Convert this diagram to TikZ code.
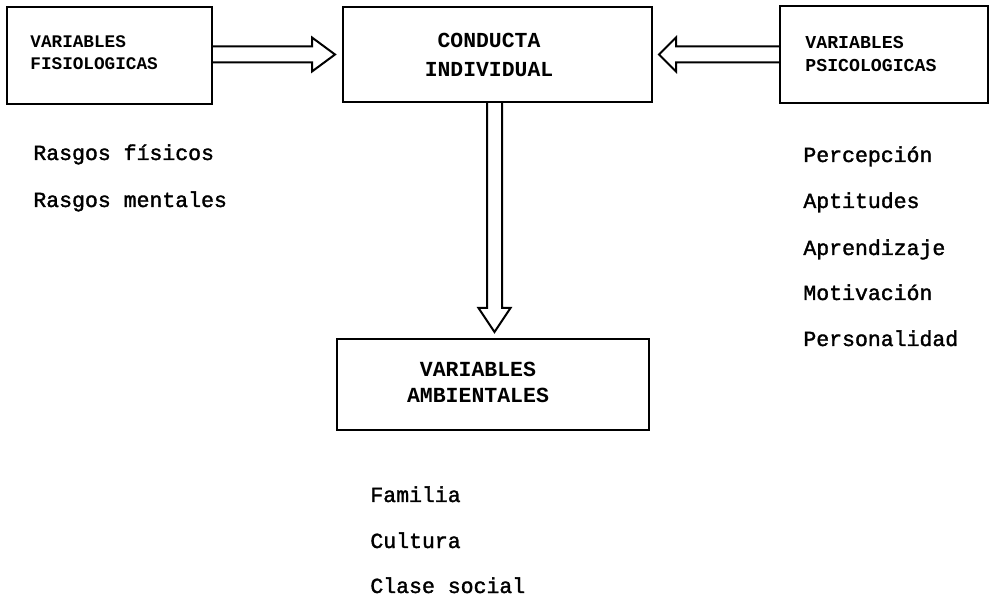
\documentclass[tikz,border=0pt]{standalone}
\usepackage{fontspec}
\setmonofont{Liberation Mono}
\newfontfamily\listfont{Liberation Mono}[BoldFont={Liberation Mono},BoldFeatures={FakeBold=1.6}]
\usetikzlibrary{calc}
\begin{document}
\begin{tikzpicture}[x=0.5pt,y=-0.5pt,
  box/.style={draw,line width=1pt,rectangle,inner sep=0pt},
  dblarrow/.style={draw,line width=1pt,line join=miter},
  boxtxt/.style={inner sep=0pt,font=\ttfamily\bfseries\fontsize{#1}{#1}\selectfont},
  listtxt/.style={inner sep=0pt,anchor=base west,font=\listfont\bfseries\fontsize{10.75}{10.75}\selectfont}]
\useasboundingbox (0,0) rectangle (996,598);
% boxes
\node[box,minimum width=102.5pt,minimum height=48.5pt] (fis) at (109.5,55.5) {};
\node[box,minimum width=154.5pt,minimum height=47.5pt] (cond) at (497.5,54.5) {};
\node[box,minimum width=104pt,minimum height=48.5pt] (psi) at (884,54.5) {};
\node[box,minimum width=156pt,minimum height=45.5pt] (amb) at (493,384.5) {};
% box texts
\node[boxtxt=8.85,anchor=base west] (fis1) at (30,48) {VARIABLES};
\node[boxtxt=8.85,anchor=base west] (fis2) at (30,70) {FISIOLOGICAS};
\node[boxtxt=10.7,anchor=base] (cond1) at (489,48) {CONDUCTA};
\node[boxtxt=10.7,anchor=base] (cond2) at (489,77) {INDIVIDUAL};
\node[boxtxt=9.1,anchor=base west] (psi1) at (805,49) {VARIABLES};
\node[boxtxt=9.1,anchor=base west] (psi2) at (805,72) {PSICOLOGICAS};
\node[boxtxt=10.75,anchor=base] (amb1) at (478,377) {VARIABLES};
\node[boxtxt=10.75,anchor=base] (amb2) at (478,403) {AMBIENTALES};
% lists
\node[listtxt] (l1) at (33,160) {Rasgos físicos};
\node[listtxt] (l2) at (33,207) {Rasgos mentales};
\node[listtxt] (r1) at (803,162) {Percepción};
\node[listtxt] (r2) at (803,208) {Aptitudes};
\node[listtxt] (r3) at (803,255) {Aprendizaje};
\node[listtxt] (r4) at (803,300) {Motivación};
\node[listtxt] (r5) at (803,346) {Personalidad};
\node[listtxt] (b1) at (370,502) {Familia};
\node[listtxt] (b2) at (370,548) {Cultura};
\node[listtxt] (b3) at (370,593) {Clase social};
% arrows
\coordinate (tl) at ($(cond.west)+(-7,0)$);
\coordinate (sl) at (fis.east |- tl);
\draw[dblarrow] ($(sl)+(0,-8)$) -- ($(tl)+(-23,-8)$) -- ($(tl)+(-23,-17)$) -- (tl)
  -- ($(tl)+(-23,17)$) -- ($(tl)+(-23,8)$) -- ($(sl)+(0,8)$);
\coordinate (tr) at ($(cond.east)+(6,0)$);
\coordinate (sr) at (psi.west |- tr);
\draw[dblarrow] ($(sr)+(0,-8)$) -- ($(tr)+(17,-8)$) -- ($(tr)+(17,-17)$) -- (tr)
  -- ($(tr)+(17,17)$) -- ($(tr)+(17,8)$) -- ($(sr)+(0,8)$);
\coordinate (td) at ($(amb.north)+(1.5,-6)$);
\coordinate (sd) at (td |- cond.south);
\draw[dblarrow] ($(sd)+(-7.5,0)$) -- ($(td)+(-7.5,-24)$) -- ($(td)+(-16,-24)$) -- (td)
  -- ($(td)+(16,-24)$) -- ($(td)+(7.5,-24)$) -- ($(sd)+(7.5,0)$);
\end{tikzpicture}
\end{document}
